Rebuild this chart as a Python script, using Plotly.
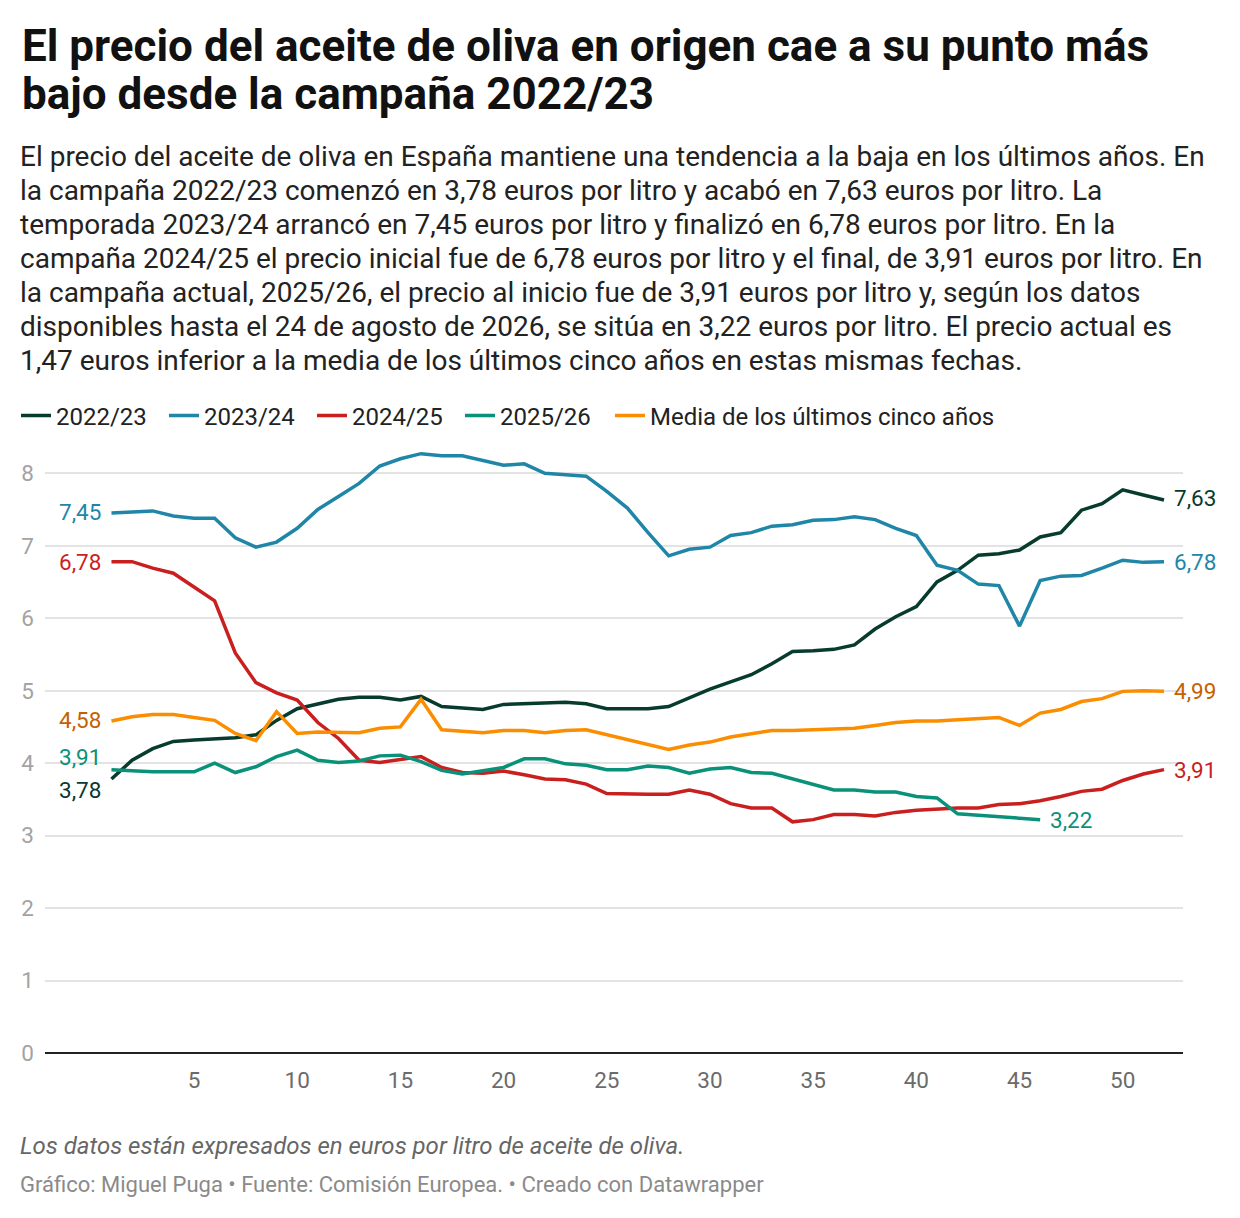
import plotly.graph_objects as go

weeks = list(range(1, 53))

campaigns = ["2022/23", "2023/24", "2024/25", "2025/26", "Media de los últimos cinco años"]

precio_2022_23 = [3.78, 4.04, 4.20, 4.30, 4.32, 4.34, 4.35, 4.39, 4.59, 4.75,
                  4.81, 4.88, 4.91, 4.91, 4.87, 4.92, 4.78, 4.76, 4.74, 4.81,
                  4.82, 4.83, 4.84, 4.82, 4.75, 4.75, 4.75, 4.78, 4.90, 5.02,
                  5.12, 5.22, 5.37, 5.54, 5.55, 5.57, 5.63, 5.85, 6.02, 6.16,
                  6.50, 6.66, 6.87, 6.89, 6.94, 7.12, 7.18, 7.49, 7.58, 7.77,
                  7.70, 7.63]
precio_2023_24 = [7.45, 7.47, 7.48, 7.41, 7.38, 7.38, 7.11, 6.98, 7.05, 7.24,
                  7.50, 7.68, 7.86, 8.10, 8.20, 8.27, 8.24, 8.24, 8.17, 8.11,
                  8.13, 8.00, 7.98, 7.96, 7.75, 7.52, 7.18, 6.86, 6.95, 6.98,
                  7.14, 7.18, 7.27, 7.29, 7.35, 7.36, 7.40, 7.36, 7.24, 7.14,
                  6.73, 6.66, 6.47, 6.45, 5.89, 6.52, 6.58, 6.59, 6.69, 6.80,
                  6.77, 6.78]
precio_2024_25 = [6.78, 6.78, 6.69, 6.62, 6.43, 6.24, 5.52, 5.11, 4.97, 4.87,
                  4.56, 4.34, 4.04, 4.01, 4.05, 4.09, 3.94, 3.87, 3.86, 3.89,
                  3.84, 3.78, 3.77, 3.71, 3.58, 3.57, 3.57, 3.57, 3.63, 3.57,
                  3.44, 3.38, 3.38, 3.19, 3.22, 3.29, 3.29, 3.27, 3.32, 3.35,
                  3.37, 3.38, 3.38, 3.43, 3.44, 3.48, 3.54, 3.61, 3.64, 3.76,
                  3.85, 3.91]
precio_2025_26 = [3.91, 3.89, 3.88, 3.88, 3.88, 4.00, 3.87, 3.95, 4.09, 4.18,
                  4.04, 4.01, 4.03, 4.10, 4.11, 4.02, 3.90, 3.85, 3.89, 3.94,
                  4.06, 4.06, 3.99, 3.97, 3.91, 3.91, 3.96, 3.94, 3.86, 3.92,
                  3.94, 3.87, 3.86, 3.78, 3.71, 3.63, 3.63, 3.60, 3.60, 3.54,
                  3.52, 3.30, 3.28, 3.26, 3.24, 3.22]
media_5_anos = [4.58, 4.64, 4.67, 4.67, 4.63, 4.59, 4.41, 4.31, 4.71, 4.41,
                4.43, 4.43, 4.42, 4.48, 4.50, 4.88, 4.46, 4.44, 4.42, 4.45,
                4.45, 4.42, 4.45, 4.46, 4.39, 4.32, 4.25, 4.19, 4.25, 4.29,
                4.36, 4.40, 4.45, 4.45, 4.46, 4.47, 4.48, 4.52, 4.56, 4.58,
                4.58, 4.60, 4.62, 4.63, 4.52, 4.69, 4.74, 4.85, 4.89, 4.99,
                5.00, 4.99]

x_ticks = [5, 10, 15, 20, 25, 30, 35, 40, 45, 50]
y_ticks = [0, 1, 2, 3, 4, 5, 6, 7, 8]

series = [precio_2022_23, precio_2023_24, precio_2024_25, precio_2025_26, media_5_anos]
colors = ["#073b2e", "#1f86a7", "#c91f1f", "#0a9179", "#fb8e00"]
label_colors = ["#073b2e", "#1f86a7", "#c91f1f", "#0a9179", "#c46200"]
legend_ids = ["legend", "legend", "legend", "legend", "legend2"]

FONT = "Roboto"

title_lines = ["El precio del aceite de oliva en origen cae a su punto más",
               "bajo desde la campaña 2022/23"]

subtitle_lines = [
    "El precio del aceite de oliva en España mantiene una tendencia a la baja en los últimos años. En",
    "la campaña 2022/23 comenzó en 3,78 euros por litro y acabó en 7,63 euros por litro. La",
    "temporada 2023/24 arrancó en 7,45 euros por litro y finalizó en 6,78 euros por litro. En la",
    "campaña 2024/25 el precio inicial fue de 6,78 euros por litro y el final, de 3,91 euros por litro. En",
    "la campaña actual, 2025/26, el precio al inicio fue de 3,91 euros por litro y, según los datos",
    "disponibles hasta el 24 de agosto de 2026, se sitúa en 3,22 euros por litro. El precio actual es",
    "1,47 euros inferior a la media de los últimos cinco años en estas mismas fechas.",
]

nota = "Los datos están expresados en euros por litro de aceite de oliva."
credito = "Gráfico: Miguel Puga • Fuente: Comisión Europea. • Creado con Datawrapper"

fig = go.Figure()

for name, vals, col, leg in zip(campaigns, series, colors, legend_ids):
    fig.add_trace(go.Scatter(
        x=weeks[:len(vals)],
        y=vals,
        mode="lines",
        name=name,
        line=dict(color=col, width=3.5),
        legend=leg,
        hoverinfo="skip",
    ))

# etiquetas de inicio (izquierda) y final (derecha)
start_shift = [-11, 1, 0, 13, 1]
end_shift = [2, 0, 0, 0, 0]
for i, vals in enumerate(series):
    first = vals[0]
    last = vals[-1]
    fig.add_annotation(
        x=1, y=first, xref="x", yref="y",
        text=f"{first:.2f}".replace(".", ","),
        showarrow=False, xanchor="right", xshift=-8, yshift=start_shift[i],
        font=dict(family=FONT, size=22.5, color=label_colors[i]),
    )
    fig.add_annotation(
        x=len(vals), y=last, xref="x", yref="y",
        text=f"{last:.2f}".replace(".", ","),
        showarrow=False, xanchor="left", xshift=8, yshift=end_shift[i],
        font=dict(family=FONT, size=22.5, color=label_colors[i]),
    )


# page pixels -> paper coords (plot spans x 45..1183, y 437..1053 on the page)
def px_x(px):
    return (px - 45) / 1138


def px_y(py):
    return (1053 - py) / 616


for k, line in enumerate(title_lines):
    fig.add_annotation(
        x=px_x(20), y=px_y(46 + 48 * k), xref="paper", yref="paper",
        text="<b>" + line + "</b>", showarrow=False,
        xanchor="left", yanchor="middle", align="left",
        font=dict(family=FONT, size=44, color="#111111"),
    )

for k, line in enumerate(subtitle_lines):
    fig.add_annotation(
        x=px_x(18), y=px_y(156.5 + 34 * k), xref="paper", yref="paper",
        text=line, showarrow=False,
        xanchor="left", yanchor="middle", align="left",
        font=dict(family=FONT, size=28, color="#222222"),
    )

fig.add_annotation(
    x=px_x(18), y=px_y(1146), xref="paper", yref="paper",
    text="<i>" + nota + "</i>", showarrow=False,
    xanchor="left", yanchor="middle", align="left",
    font=dict(family=FONT, size=24, color="#666666"),
)
fig.add_annotation(
    x=px_x(18), y=px_y(1184), xref="paper", yref="paper",
    text=credito, showarrow=False,
    xanchor="left", yanchor="middle", align="left",
    font=dict(family=FONT, size=22, color="#8a8a8a"),
)

legend_style = dict(
    orientation="h",
    yanchor="middle",
    y=px_y(416),
    xanchor="left",
    font=dict(family=FONT, size=24, color="#222222"),
    itemwidth=30,
    traceorder="normal",
)

fig.update_layout(
    width=1232,
    height=1210,
    margin=dict(l=37, r=57, t=429, b=165, autoexpand=False),
    plot_bgcolor="white",
    paper_bgcolor="white",
    font=dict(family=FONT, color="#222222"),
    showlegend=True,
    legend=dict(x=px_x(16), entrywidth=103, **legend_style),
    legend2=dict(x=px_x(610), **legend_style),
    xaxis=dict(
        range=[-2.22, 52.92],
        tickvals=x_ticks,
        showgrid=False,
        zeroline=False,
        showline=False,
        ticks="",
        automargin=False,
        ticklabelstandoff=11,
        tickfont=dict(family=FONT, size=22.5, color="#6b6b6b"),
    ),
    yaxis=dict(
        range=[0, 8.5],
        tickvals=y_ticks,
        showgrid=True,
        gridcolor="#e3e3e3",
        gridwidth=1.5,
        zeroline=True,
        zerolinecolor="#222222",
        zerolinewidth=2,
        showline=False,
        ticks="",
        automargin=False,
        ticklabelstandoff=10,
        tickfont=dict(family=FONT, size=22.5, color="#a3a3a3"),
    ),
)

fig.write_html("out.html")
